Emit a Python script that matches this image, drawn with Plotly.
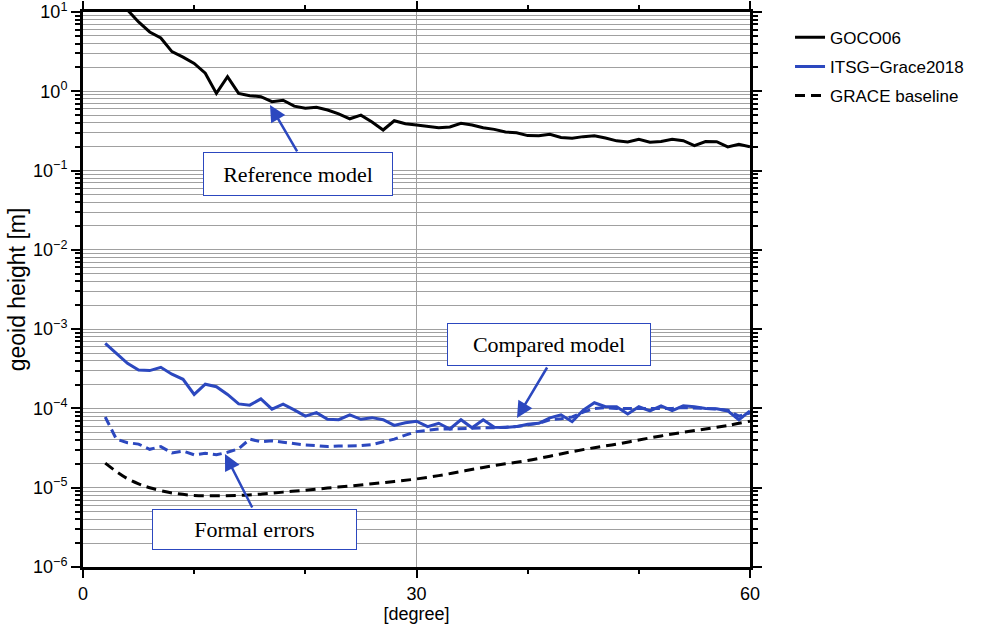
import plotly.graph_objects as go

degrees = list(range(2, 61))

goco06 = [40, 16, 10.6, 7.5, 5.6, 4.7, 3.16, 2.7, 2.25, 1.69,
          0.94, 1.53, 0.94, 0.88, 0.855, 0.74, 0.77, 0.65, 0.61, 0.63,
          0.58, 0.52, 0.45, 0.50, 0.41, 0.325, 0.425, 0.39, 0.375, 0.36,
          0.347, 0.355, 0.394, 0.376, 0.347, 0.331, 0.306, 0.30, 0.276, 0.275,
          0.287, 0.262, 0.256, 0.268, 0.274, 0.258, 0.237, 0.229, 0.248, 0.228,
          0.233, 0.248, 0.238, 0.206, 0.232, 0.231, 0.199, 0.215, 0.199]

itsg = [6.6e-4, 5.0e-4, 3.7e-4, 3.05e-4, 3.0e-4, 3.3e-4, 2.7e-4, 2.33e-4, 1.5e-4, 2.02e-4,
        1.88e-4, 1.5e-4, 1.14e-4, 1.1e-4, 1.32e-4, 9.8e-5, 1.13e-4, 9.6e-5, 8.0e-5, 8.85e-5,
        7.3e-5, 7.2e-5, 8.3e-5, 7.3e-5, 7.65e-5, 7.2e-5, 6.1e-5, 6.6e-5, 6.9e-5, 5.9e-5,
        6.5e-5, 5.5e-5, 7.2e-5, 5.7e-5, 7.2e-5, 5.8e-5, 5.75e-5, 5.9e-5, 6.3e-5, 6.5e-5,
        7.6e-5, 8.3e-5, 6.8e-5, 9.5e-5, 1.18e-4, 1.05e-4, 1.05e-4, 8.5e-5, 1.05e-4, 9.3e-5,
        1.08e-4, 9.4e-5, 1.08e-4, 1.05e-4, 1.0e-4, 9.9e-5, 9.3e-5, 7.2e-5, 9.3e-5]

itsg_formal = [7.8e-5, 4.1e-5, 3.7e-5, 3.55e-5, 3.05e-5, 3.3e-5, 2.75e-5, 2.9e-5, 2.6e-5, 2.72e-5,
               2.6e-5, 2.8e-5, 3.1e-5, 4.1e-5, 3.8e-5, 3.9e-5, 3.75e-5, 3.6e-5, 3.45e-5, 3.4e-5,
               3.3e-5, 3.35e-5, 3.35e-5, 3.4e-5, 3.5e-5, 3.75e-5, 4.1e-5, 4.6e-5, 5.1e-5, 5.3e-5,
               5.5e-5, 5.5e-5, 5.6e-5, 5.6e-5, 5.7e-5, 5.7e-5, 5.8e-5, 5.9e-5, 6.2e-5, 6.5e-5,
               7.2e-5, 7.4e-5, 7.8e-5, 9.0e-5, 1.0e-4, 1.02e-4, 1.0e-4, 1.0e-4, 1.02e-4, 1.0e-4,
               1.02e-4, 1.0e-4, 1.03e-4, 1.02e-4, 1.0e-4, 9.8e-5, 9.5e-5, 8.0e-5, 8.8e-5]

baseline_deg = [2, 3, 4, 5, 6, 8, 10, 12, 14, 16, 18, 20, 22, 24, 26, 28, 30,
                32, 34, 36, 38, 40, 42, 44, 46, 48, 50, 52, 54, 56, 58, 60]
baseline = [2.04e-5, 1.6e-5, 1.3e-5, 1.12e-5, 1.0e-5, 8.6e-6, 8.0e-6, 7.9e-6, 8.0e-6, 8.3e-6,
            8.8e-6, 9.3e-6, 9.9e-6, 1.05e-5, 1.12e-5, 1.2e-5, 1.29e-5,
            1.42e-5, 1.6e-5, 1.8e-5, 2.0e-5, 2.2e-5, 2.5e-5, 2.85e-5, 3.2e-5, 3.55e-5,
            4.0e-5, 4.5e-5, 5.0e-5, 5.5e-5, 6.1e-5, 6.9e-5]

y_tickvals = [1e-6, 1e-5, 1e-4, 1e-3, 1e-2, 1e-1, 1e0, 1e1]
y_ticktext = ["10<sup>−6</sup>", "10<sup>−5</sup>", "10<sup>−4</sup>", "10<sup>−3</sup>",
              "10<sup>−2</sup>", "10<sup>−1</sup>", "10<sup>0</sup>", "10<sup>1</sup>"]
x_tickvals = [0, 30, 60]

BLUE = "#2c48bf"
GRID = "#a0a0a0"
SANS = "Liberation Sans, Arial, sans-serif"
SERIF = "Liberation Serif, Times New Roman, serif"

fig = go.Figure()
fig.add_trace(go.Scatter(x=degrees, y=goco06, mode="lines", name="GOCO06", legendgroup="a",
                         line=dict(color="black", width=3)))
fig.add_trace(go.Scatter(x=degrees, y=itsg, mode="lines", name="ITSG−Grace2018", legendgroup="b",
                         line=dict(color=BLUE, width=3)))
fig.add_trace(go.Scatter(x=degrees, y=itsg_formal, mode="lines", showlegend=False, legendgroup="b",
                         line=dict(color=BLUE, width=3, dash="9px,5px")))
fig.add_trace(go.Scatter(x=baseline_deg, y=baseline, mode="lines", name="GRACE baseline",
                         legendgroup="c",
                         line=dict(color="black", width=3, dash="10px,6px"), line_shape="spline"))

fig.update_layout(
    width=986, height=628,
    margin=dict(l=83, r=236, t=12, b=61),
    paper_bgcolor="white", plot_bgcolor="white",
    font=dict(family=SANS, size=17, color="black"),
    showlegend=True,
    legend=dict(x=1.06, y=0.986, xanchor="left", yanchor="top",
                font=dict(size=17, family=SANS), bgcolor="rgba(0,0,0,0)",
                traceorder="grouped", tracegroupgap=4),
    xaxis=dict(range=[0, 60], tickvals=x_tickvals, ticks="outside", ticklen=8,
               tickwidth=1.5, tickcolor="black", showline=True, linewidth=3,
               linecolor="black", mirror="allticks", showgrid=True, gridcolor=GRID,
               gridwidth=1, zeroline=False, automargin=False, ticklabeloverflow="allow",
               minor=dict(dtick=10, ticks="outside", ticklen=4, tickcolor="black",
                          showgrid=False),
               title=dict(text="[degree]", font=dict(size=18), standoff=2),
               tickfont=dict(size=18)),
    yaxis=dict(type="log", range=[-6, 1], tickvals=y_tickvals, ticktext=y_ticktext,
               ticks="outside", ticklen=9, tickwidth=1.5, tickcolor="black",
               showline=True, linewidth=3, linecolor="black", mirror="allticks",
               showgrid=True, gridcolor=GRID, gridwidth=1, automargin=False,
               ticklabeloverflow="allow",
               minor=dict(dtick="D1", ticks="outside", ticklen=5, tickcolor="black",
                          showgrid=True, gridcolor=GRID, gridwidth=1),
               title=dict(text="geoid height [m]", font=dict(size=23), standoff=1),
               tickfont=dict(size=18)),
)

def box(text, cx, cy, w, h):
    fig.add_annotation(x=cx, y=cy, xref="x", yref="y", text=text, showarrow=False,
                       font=dict(family=SERIF, size=22, color="black"),
                       bgcolor="white", bordercolor=BLUE, borderwidth=1, borderpad=0,
                       width=w, height=h, align="center", valign="middle")

def arrow(tx, ty, hx, hy):
    fig.add_annotation(x=hx, y=hy, xref="x", yref="y", ax=tx, ay=ty, axref="x", ayref="y",
                       text="", showarrow=True, arrowhead=2, arrowsize=1.3,
                       arrowwidth=2.5, arrowcolor=BLUE)

# annotation positions (log10 units on y)
arrow(19.34, -0.778, 16.82, -0.173)
box("Reference model", 19.34, -1.043, 188, 42)
arrow(41.83, -3.465, 39.04, -4.12)
box("Compared model", 41.92, -3.193, 202, 41)
arrow(15.29, -5.268, 12.77, -4.574)
box("Formal errors", 15.43, -5.527, 203, 39)

fig.write_html("out.html")
